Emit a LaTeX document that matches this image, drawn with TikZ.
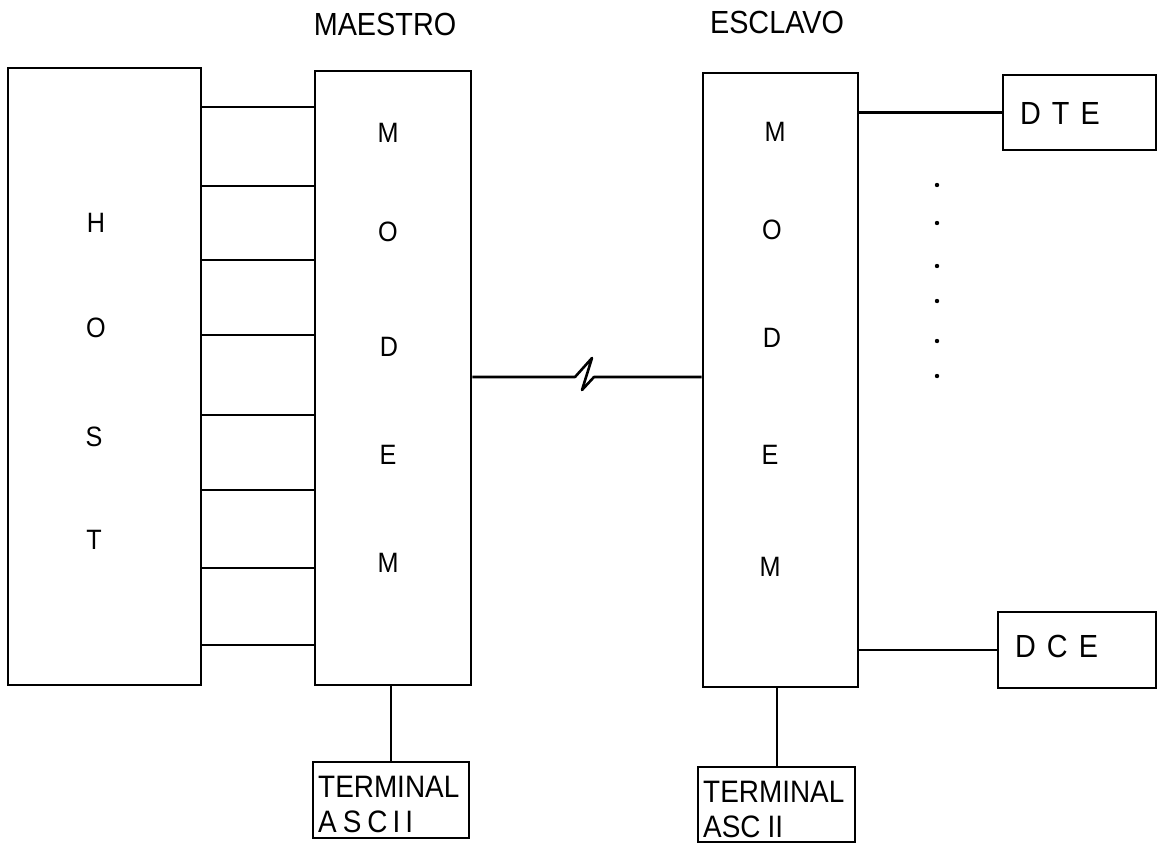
\documentclass[tikz,border=0pt]{standalone}
\usepackage{fontspec}
\setmainfont{Liberation Sans}
\newfontfamily\lbl[FakeStretch=0.9]{Liberation Sans}
\begin{document}
\begin{tikzpicture}[x=1pt,y=-1pt,
  box/.style={draw,line width=2.6pt,inner sep=0pt,rectangle},
  wire/.style={line width=2.6pt},
  ltr/.style={inner sep=0pt,font=\lbl\fontsize{28}{28}\selectfont},
  big/.style={inner sep=0pt,font=\lbl\fontsize{32}{32}\selectfont},
  small/.style={inner sep=0pt,font=\lbl\fontsize{31}{31}\selectfont}]
\useasboundingbox[fill=white] (0,0) rectangle (1161,845);

% boxes
\node[box,minimum width=193pt,minimum height=617pt] (host) at (104.5,376.5) {};
\node[box,minimum width=156pt,minimum height=614pt] (mstr) at (393,378) {};
\node[box,minimum width=155pt,minimum height=614pt] (slv) at (780.5,380) {};
\node[box,minimum width=153pt,minimum height=75pt] (dte) at (1079.5,112.5) {};
\node[box,minimum width=158pt,minimum height=76pt] (dce) at (1077,650) {};
\node[box,minimum width=156pt,minimum height=76pt] (term1) at (391,800) {};
\node[box,minimum width=157pt,minimum height=75pt] (term2) at (776.5,804.5) {};

% titles
\node[big] (tmaestro) at (385,24) {MAESTRO};
\node[big] (tesclavo) at (777,22) {ESCLAVO};

% HOST letters
\node[ltr] (h1) at (96,223) {H};
\node[ltr] (h2) at (96,328) {O};
\node[ltr] (h3) at (94,437) {S};
\node[ltr] (h4) at (94,540) {T};

% master modem letters
\node[ltr] (m1) at (388,133) {M};
\node[ltr] (m2) at (388,232) {O};
\node[ltr] (m3) at (389,347) {D};
\node[ltr] (m4) at (388,455) {E};
\node[ltr] (m5) at (388,563) {M};

% slave modem letters
\node[ltr] (s1) at (775,132) {M};
\node[ltr] (s2) at (772,230) {O};
\node[ltr] (s3) at (772,338) {D};
\node[ltr] (s4) at (770,455) {E};
\node[ltr] (s5) at (770,567) {M};

% DTE / DCE
\node[big,anchor=west] (dtet) at (1020,113) {D\hspace{11pt}T\hspace{11pt}E};
\node[big,anchor=west] (dcet) at (1015,646) {D\hspace{11pt}C\hspace{11pt}E};

% terminals
\node[small,anchor=west] (t1a) at (318,787) {TERMINAL};
\node[small,anchor=west] (t1b) at (318,822) {A\hspace{6pt}S\hspace{6pt}C\hspace{5pt}I\hspace{5pt}I};
\node[small,anchor=west] (t2a) at (703,792) {TERMINAL};
\node[small,anchor=west] (t2b) at (703,827) {ASC\hspace{7pt}II};

% host - master lines
\foreach \yy in {107,186,260,335,415,490,568,645}
  \draw[wire] (host.east |- 0,\yy) -- (mstr.west |- 0,\yy);

% link with break symbol
\coordinate (z1) at (575,377);
\coordinate (z2) at (592,358);
\coordinate (z3) at (582,390);
\coordinate (z4) at (594,377);
\draw[wire,line join=round] (mstr.east |- 0,377) -- (z1) -- (z2) -- (z3) -- (z4) -- (slv.west |- 0,377);

% slave to DTE / DCE
\draw[wire] (slv.east |- dte.west) -- (dte.west);
\draw[wire] (slv.east |- dce.west) -- (dce.west);

% dots
\foreach \yy in {185,223,266,301,341,376}
  \fill (937,\yy) circle (2.2pt);

% terminals
\draw[wire] (mstr.south -| term1.north) -- (term1.north);
\draw[wire] (slv.south -| 777,0) -- (term2.north -| 777,0);
\end{tikzpicture}
\end{document}
